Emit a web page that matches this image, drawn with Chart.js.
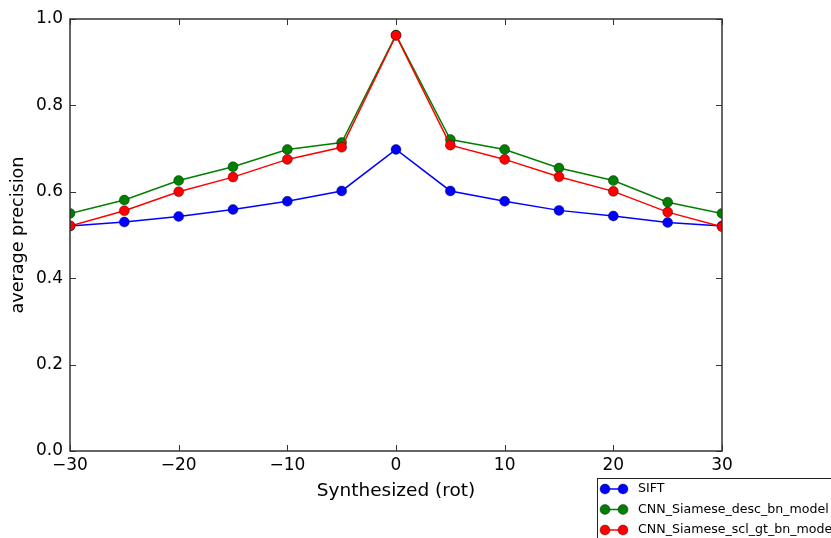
<!DOCTYPE html>
<html>
<head>
<meta charset="utf-8">
<script src="https://cdn.jsdelivr.net/npm/chart.js@4.4.1/dist/chart.umd.min.js"></script>
<style>
  html, body { margin: 0; padding: 0; background: #fff; }
  #chart { display: block; }
</style>
</head>
<body>
<canvas id="chart" width="831" height="538"></canvas>
<script>
// Average precision vs synthesized rotation

const rotations = [-30, -25, -20, -15, -10, -5, 0, 5, 10, 15, 20, 25, 30];
const sift = [0.521, 0.530, 0.543, 0.559, 0.578, 0.602, 0.698, 0.602, 0.578, 0.557, 0.544, 0.529, 0.521];
const descModel = [0.550, 0.581, 0.626, 0.658, 0.698, 0.714, 0.963, 0.721, 0.698, 0.655, 0.626, 0.576, 0.550];
const sclGtModel = [0.521, 0.556, 0.600, 0.634, 0.675, 0.703, 0.962, 0.708, 0.675, 0.635, 0.601, 0.553, 0.519];
const seriesNames = ['SIFT', 'CNN_Siamese_desc_bn_model', 'CNN_Siamese_scl_gt_bn_model'];
const xTicks = [-30, -20, -10, 0, 10, 20, 30];
const yTicks = [0.0, 0.2, 0.4, 0.6, 0.8, 1.0];

const FONT = 'DejaVu Sans';
const colors = ['#0000ff', '#008000', '#ff0000'];

function makeSet(label, values, color, order) {
    return {
        label: label,
        data: rotations.map((r, i) => ({ x: r, y: values[i] })),
        borderColor: color,
        backgroundColor: color,
        borderWidth: 1.5,
        pointRadius: 5,
        pointBorderColor: 'rgba(0,0,0,0.6)',
        pointBorderWidth: 0.6,
        tension: 0,
        clip: 0,
        order: order   // later series drawn on top, as in matplotlib
    };
}

// frame and inward ticks on all four sides, like matplotlib
const framePlugin = {
    id: 'frame',
    afterDatasetsDraw(chart) {
        const { ctx, chartArea: a, scales } = chart;
        ctx.save();
        ctx.strokeStyle = '#333';
        ctx.lineWidth = 1;
        ctx.beginPath();
        xTicks.forEach(v => {
            const px = Math.round(scales.x.getPixelForValue(v)) + 0.5;
            ctx.moveTo(px, a.bottom); ctx.lineTo(px, a.bottom - 6);
            ctx.moveTo(px, a.top); ctx.lineTo(px, a.top + 6);
        });
        yTicks.forEach(v => {
            const py = Math.round(scales.y.getPixelForValue(v)) + 0.5;
            ctx.moveTo(a.left, py); ctx.lineTo(a.left + 6, py);
            ctx.moveTo(a.right, py); ctx.lineTo(a.right - 6, py);
        });
        ctx.stroke();
        ctx.lineWidth = 1.5;
        ctx.strokeRect(a.left, a.top, a.right - a.left, a.bottom - a.top);
        ctx.restore();
    }
};

// legend box sitting below the axes, cut by the canvas edge
const legendPlugin = {
    id: 'boxLegend',
    afterDraw(chart) {
        const { ctx } = chart;
        const x0 = 597.5, y0 = 478.5;
        ctx.save();
        ctx.fillStyle = '#fff';
        ctx.fillRect(x0, y0, 300, 100);
        ctx.strokeStyle = '#222';
        ctx.lineWidth = 1;
        ctx.strokeRect(x0, y0, 300, 100);
        chart.data.datasets.forEach((ds, i) => {
            const y = 489 + i * 20.5;
            ctx.strokeStyle = ds.borderColor;
            ctx.lineWidth = 1.5;
            ctx.beginPath();
            ctx.moveTo(605, y); ctx.lineTo(623, y);
            ctx.stroke();
            [605, 623].forEach(cx => {
                ctx.beginPath();
                ctx.arc(cx, y, 5, 0, Math.PI * 2);
                ctx.fillStyle = ds.backgroundColor;
                ctx.fill();
                ctx.strokeStyle = 'rgba(0,0,0,0.6)';
                ctx.lineWidth = 0.6;
                ctx.stroke();
            });
            ctx.fillStyle = '#000';
            ctx.font = '12.6px "' + FONT + '"';
            ctx.textBaseline = 'middle';
            ctx.textAlign = 'left';
            ctx.fillText(ds.label, 638, y);
        });
        ctx.restore();
    }
};

const data = {
    datasets: [
        makeSet(seriesNames[0], sift, colors[0], 3),
        makeSet(seriesNames[1], descModel, colors[1], 2),
        makeSet(seriesNames[2], sclGtModel, colors[2], 1)
    ]
};

const options = {
    responsive: false,
    animation: false,
    events: [],
    layout: { padding: { left: 0, right: 109, top: 19, bottom: 0 } },
    plugins: {
        legend: { display: false },
        tooltip: { enabled: false }
    },
    scales: {
        x: {
            type: 'linear',
            min: -30,
            max: 30,
            afterBuildTicks: scale => { scale.ticks = xTicks.map(v => ({ value: v })); },
            afterFit: scale => { scale.height = 87; },
            ticks: {
                padding: 4,
                color: '#000',
                font: { family: FONT, size: 17 },
                callback: v => String(v).replace('-', '\u2212')
            },
            grid: { display: false, drawTicks: false },
            border: { display: false },
            title: {
                display: true,
                text: 'Synthesized (rot)',
                color: '#000',
                font: { family: FONT, size: 18.5 },
                padding: { top: 0, bottom: 36 }
            }
        },
        y: {
            min: 0,
            max: 1,
            afterBuildTicks: scale => { scale.ticks = yTicks.map(v => ({ value: v })); },
            afterFit: scale => { scale.width = 70; },
            ticks: {
                padding: 7,
                color: '#000',
                font: { family: FONT, size: 17 },
                callback: v => v.toFixed(1)
            },
            grid: { display: false, drawTicks: false },
            border: { display: false },
            title: {
                display: true,
                text: 'average precision',
                color: '#000',
                font: { family: FONT, size: 17.6 },
                padding: { top: 8, bottom: 0 }
            }
        }
    }
};

new Chart(document.getElementById('chart').getContext('2d'), {
    type: 'line',
    data: data,
    options: options,
    plugins: [framePlugin, legendPlugin]
});
</script>
</body>
</html>
